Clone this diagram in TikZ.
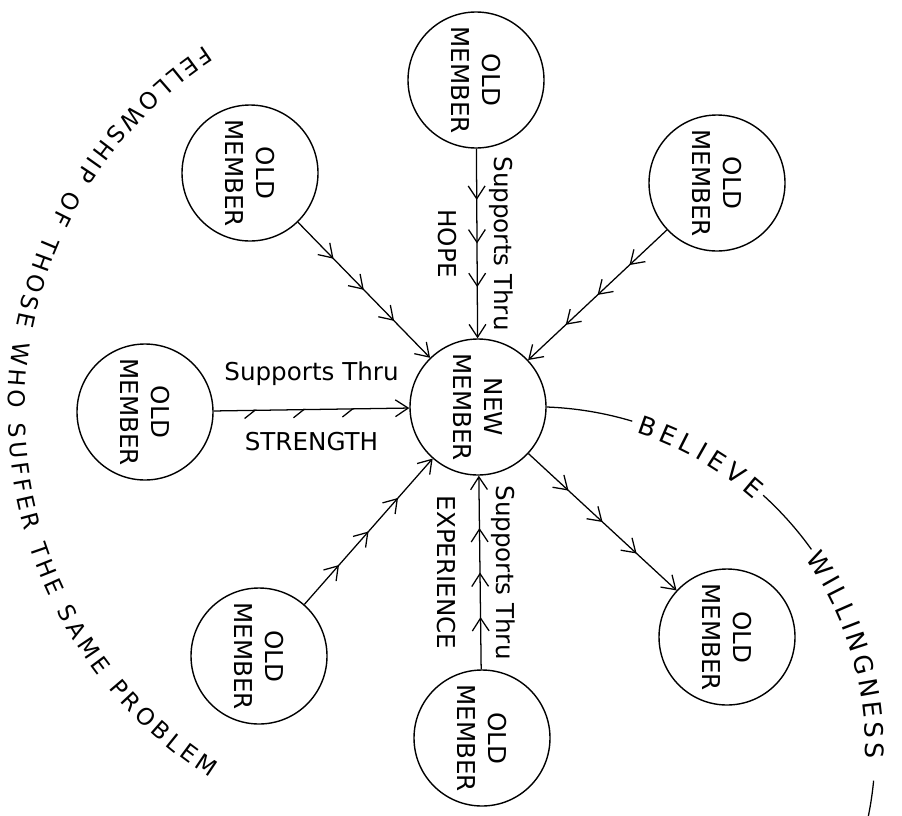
\documentclass[tikz,border=0pt]{standalone}
\usepackage{fontspec}
\setmainfont{DejaVu Sans}
\usepackage{tikz}
\usetikzlibrary{arrows.meta, decorations.markings, decorations.text}

\newcommand{\lettering}{\fontsize{17.5}{22}\selectfont}
\newcommand{\arclettering}{\fontsize{18}{22}\selectfont}
\newcommand{\ringlettering}{\fontsize{16.5}{20}\selectfont}

\begin{document}
\begin{tikzpicture}[
    member/.style={draw, circle, line width=1pt, minimum size=3.4cm, inner sep=0pt, align=center, rotate=-90, font=\lettering},
    lbl/.style={font=\lettering, inner sep=0pt},
    barb/.tip={Straight Barb[length=3.2mm, width=4.2mm]},
    halfbarb/.tip={Straight Barb[harpoon, swap, length=2.6mm, width=4mm]},
    support/.style={line width=0.9pt, -{barb}, postaction={decorate}, decoration={markings,
        mark=at position 0.27 with {\arrow{barb}},
        mark=at position 0.5 with {\arrow{barb}},
        mark=at position 0.73 with {\arrow{barb}}}},
    halfsupport/.style={line width=0.9pt, -{barb}, postaction={decorate}, decoration={markings,
        mark=at position 0.22 with {\arrow{halfbarb}},
        mark=at position 0.47 with {\arrow{halfbarb}},
        mark=at position 0.72 with {\arrow{halfbarb}}}},
    arctext/.style={decorate, decoration={text along path, text align={fit to path}}}
]
\useasboundingbox (0,0) rectangle (22.55,-20.375);

% Members (text turned a quarter clockwise)
\node[member] (new) at (11.95,-10.175) {NEW\\MEMBER};
\node[member] (top) at (11.9,-2.0) {OLD\\MEMBER};
\node[member] (topleft) at (6.25,-4.325) {OLD\\MEMBER};
\node[member] (topright) at (17.925,-4.575) {OLD\\MEMBER};
\node[member] (left) at (3.625,-10.3) {OLD\\MEMBER};
\node[member] (lowleft) at (6.475,-16.4) {OLD\\MEMBER};
\node[member] (bottom) at (12.05,-18.45) {OLD\\MEMBER};
\node[member] (lowright) at (18.175,-15.925) {OLD\\MEMBER};

% Supports
\draw[support] (top) -- node[lbl, rotate=-90, anchor=south, outer sep=0.32cm] {Supports Thru}
    node[lbl, rotate=-90, anchor=north, outer sep=0.5cm] {HOPE} (new);
\draw[support] (topleft) -- (new);
\draw[support] (topright) -- (new);
\draw[halfsupport] (left) -- node[lbl, anchor=south, outer sep=0.6cm] {Supports Thru}
    node[lbl, anchor=north, outer sep=0.58cm] {STRENGTH} (new);
\draw[support] (lowleft) -- (new);
\draw[support] (bottom) -- node[lbl, rotate=-90, anchor=south, outer sep=0.28cm] {Supports Thru}
    node[lbl, rotate=-90, anchor=north, outer sep=0.6cm] {EXPERIENCE} (new);
\draw[support] (new) -- (lowright);

% Believe - willingness (new.north is on the right, the node is turned)
\coordinate (rc) at (13.35,-18.7);
\draw[line width=0.9pt] (new.north) arc[start angle=87.9, end angle=73.3, radius=8.53cm];
\draw[line width=0.9pt] ([shift={(47.8:8.53)}]rc) arc[start angle=47.8, end angle=35.6, radius=8.53cm];
\draw[line width=0.9pt] ([shift={(-5.5:8.53)}]rc) arc[start angle=-5.5, end angle=-12, radius=8.53cm];
\path[arctext, decoration={text={|\arclettering|BELIEVE}, raise=-7pt}]
    ([shift={(72:8.53)}]rc) arc[start angle=72, end angle=48.6, radius=8.53cm];
\path[arctext, decoration={text={|\arclettering|WILLINGNESS}, raise=-7pt}]
    ([shift={(34.9:8.53)}]rc) arc[start angle=34.9, end angle=-1.7, radius=8.53cm];

% Fellowship ring
\coordinate (lc) at (11.1,-10.25);
\path[arctext, decoration={text={|\ringlettering|FELLOWSHIP OF THOSE WHO SUFFER THE SAME PROBLEM}}]
    ([shift={(123.3:10.9)}]lc) arc[start angle=123.3, end angle=237.5, radius=10.9cm];

\end{tikzpicture}
\end{document}
